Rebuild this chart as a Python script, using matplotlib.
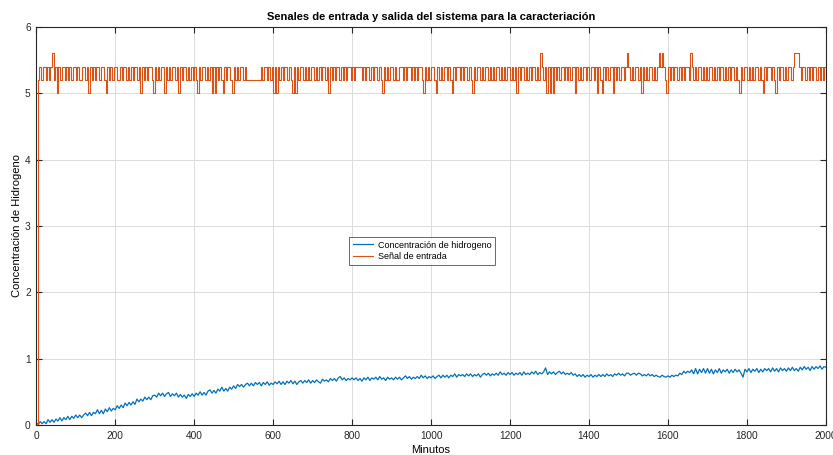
import numpy as np
import matplotlib
matplotlib.use("Agg")
import matplotlib.pyplot as plt

# ---- data ----
# Output signal: hydrogen concentration, sampled every 5 minutes (0..2000)
t_hidrogeno = np.arange(0, 2001, 5)
hidrogeno = [
    0.03,0.01,0.05,0.02,0.05,0.02,0.08,0.04,0.08,0.04,0.09,0.06,0.11,0.06,0.11,0.08,0.13,0.08,0.13,0.10,
    0.15,0.11,0.15,0.11,0.15,0.18,0.14,0.19,0.14,0.19,0.17,0.23,0.17,0.22,0.17,0.24,0.20,0.26,0.21,0.25,
    0.23,0.29,0.25,0.30,0.26,0.33,0.29,0.34,0.30,0.35,0.31,0.39,0.35,0.39,0.36,0.42,0.38,0.42,0.38,0.44,
    0.45,0.42,0.48,0.44,0.48,0.43,0.47,0.49,0.43,0.47,0.44,0.48,0.42,0.46,0.42,0.45,0.40,0.46,0.43,0.47,
    0.43,0.48,0.45,0.50,0.45,0.49,0.45,0.51,0.53,0.48,0.52,0.48,0.54,0.51,0.57,0.51,0.55,0.51,0.57,0.54,
    0.59,0.55,0.61,0.58,0.61,0.57,0.61,0.63,0.59,0.63,0.59,0.64,0.61,0.64,0.59,0.64,0.61,0.65,0.60,0.63,
    0.61,0.65,0.62,0.66,0.61,0.65,0.61,0.66,0.63,0.67,0.62,0.66,0.61,0.65,0.67,0.63,0.67,0.64,0.68,0.63,
    0.67,0.64,0.68,0.65,0.63,0.69,0.66,0.68,0.65,0.70,0.67,0.70,0.66,0.71,0.73,0.68,0.71,0.67,0.70,0.68,
    0.71,0.68,0.71,0.67,0.70,0.66,0.71,0.68,0.72,0.67,0.71,0.69,0.72,0.68,0.73,0.69,0.71,0.67,0.72,0.69,
    0.71,0.68,0.72,0.69,0.72,0.68,0.71,0.74,0.70,0.73,0.69,0.72,0.70,0.73,0.70,0.75,0.71,0.74,0.70,0.73,
    0.71,0.74,0.70,0.73,0.75,0.71,0.75,0.72,0.75,0.71,0.75,0.73,0.77,0.72,0.76,0.74,0.76,0.73,0.77,0.74,
    0.77,0.73,0.76,0.74,0.77,0.72,0.76,0.78,0.75,0.78,0.74,0.77,0.75,0.78,0.75,0.80,0.76,0.78,0.75,0.79,
    0.76,0.79,0.75,0.78,0.76,0.79,0.75,0.80,0.76,0.78,0.76,0.80,0.77,0.81,0.76,0.79,0.77,0.80,0.86,0.76,
    0.80,0.77,0.80,0.76,0.79,0.81,0.77,0.80,0.76,0.78,0.76,0.79,0.75,0.77,0.73,0.76,0.73,0.76,0.72,0.75,
    0.73,0.76,0.72,0.75,0.73,0.76,0.73,0.76,0.73,0.77,0.74,0.76,0.73,0.77,0.75,0.78,0.75,0.77,0.74,0.78,
    0.78,0.75,0.77,0.78,0.75,0.78,0.77,0.74,0.76,0.74,0.77,0.74,0.76,0.73,0.75,0.73,0.72,0.75,0.73,0.72,
    0.74,0.72,0.75,0.73,0.75,0.74,0.78,0.76,0.81,0.78,0.81,0.79,0.83,0.77,0.85,0.77,0.84,0.79,0.85,0.78,
    0.85,0.78,0.84,0.77,0.83,0.79,0.85,0.78,0.83,0.80,0.84,0.78,0.83,0.79,0.84,0.80,0.83,0.78,0.72,0.84,
    0.80,0.85,0.79,0.84,0.81,0.85,0.79,0.84,0.80,0.85,0.82,0.85,0.80,0.86,0.81,0.85,0.80,0.86,0.82,0.85,
    0.81,0.86,0.82,0.87,0.82,0.85,0.81,0.87,0.83,0.88,0.84,0.87,0.82,0.88,0.84,0.88,0.85,0.89,0.84,0.88,
    0.87,
]

# Input signal, sampled every 4 minutes (0..2000)
t_entrada = np.arange(0, 2001, 4)
entrada = [
    0.0,5.2,5.4,5.2,5.4,5.4,5.2,5.4,5.2,5.4,5.6,5.2,5.4,5.0,5.4,5.2,5.4,5.4,5.2,5.4,
    5.2,5.4,5.2,5.4,5.4,5.2,5.4,5.2,5.2,5.4,5.4,5.2,5.4,5.0,5.4,5.2,5.4,5.2,5.4,5.4,
    5.2,5.4,5.4,5.2,5.0,5.4,5.2,5.4,5.2,5.4,5.4,5.2,5.2,5.4,5.2,5.4,5.4,5.2,5.4,5.2,
    5.4,5.2,5.4,5.4,5.2,5.4,5.0,5.4,5.2,5.4,5.2,5.4,5.4,5.2,5.0,5.4,5.2,5.4,5.2,5.4,
    5.4,5.0,5.4,5.2,5.4,5.2,5.4,5.4,5.2,5.4,5.0,5.4,5.2,5.4,5.4,5.2,5.4,5.2,5.4,5.2,
    5.4,5.2,5.0,5.4,5.2,5.4,5.4,5.2,5.4,5.2,5.4,5.0,5.4,5.0,5.4,5.2,5.4,5.2,5.0,5.4,
    5.2,5.4,5.4,5.2,5.0,5.4,5.2,5.4,5.2,5.4,5.4,5.2,5.4,5.2,5.2,5.2,5.2,5.2,5.2,5.2,
    5.2,5.2,5.4,5.2,5.4,5.4,5.2,5.4,5.2,5.4,5.0,5.4,5.0,5.4,5.2,5.4,5.2,5.4,5.4,5.2,
    5.4,5.2,5.0,5.4,5.0,5.4,5.2,5.4,5.4,5.2,5.4,5.2,5.4,5.2,5.4,5.4,5.2,5.4,5.2,5.4,
    5.2,5.4,5.4,5.2,5.4,5.0,5.4,5.2,5.4,5.2,5.4,5.4,5.2,5.4,5.2,5.4,5.2,5.4,5.4,5.2,
    5.4,5.2,5.4,5.4,5.4,5.4,5.2,5.4,5.2,5.4,5.4,5.2,5.4,5.2,5.4,5.4,5.2,5.4,5.2,5.0,
    5.4,5.2,5.4,5.2,5.4,5.4,5.2,5.4,5.2,5.2,5.4,5.4,5.2,5.4,5.2,5.4,5.4,5.2,5.4,5.2,
    5.4,5.2,5.4,5.4,5.2,5.0,5.4,5.2,5.4,5.2,5.4,5.4,5.2,5.0,5.4,5.2,5.4,5.2,5.4,5.4,
    5.2,5.4,5.2,5.0,5.4,5.2,5.4,5.4,5.2,5.4,5.2,5.4,5.4,5.2,5.4,5.2,5.0,5.4,5.2,5.4,
    5.4,5.2,5.4,5.2,5.4,5.4,5.2,5.4,5.2,5.4,5.2,5.4,5.4,5.2,5.4,5.2,5.4,5.2,5.4,5.4,
    5.2,5.4,5.2,5.4,5.0,5.4,5.2,5.4,5.4,5.2,5.4,5.2,5.4,5.2,5.4,5.4,5.2,5.4,5.2,5.6,
    5.4,5.2,5.4,5.0,5.4,5.0,5.4,5.0,5.4,5.2,5.4,5.2,5.4,5.4,5.2,5.4,5.2,5.4,5.2,5.4,
    5.4,5.0,5.4,5.2,5.4,5.2,5.4,5.4,5.2,5.4,5.2,5.4,5.4,5.2,5.4,5.0,5.4,5.2,5.0,5.4,
    5.2,5.4,5.2,5.4,5.4,5.0,5.4,5.2,5.4,5.2,5.4,5.4,5.2,5.4,5.6,5.4,5.2,5.4,5.2,5.4,
    5.4,5.2,5.4,5.0,5.4,5.2,5.4,5.2,5.4,5.4,5.2,5.4,5.2,5.4,5.6,5.4,5.6,5.4,5.2,5.0,
    5.4,5.2,5.4,5.2,5.4,5.4,5.2,5.4,5.2,5.4,5.2,5.4,5.4,5.2,5.6,5.4,5.2,5.4,5.2,5.4,
    5.4,5.2,5.4,5.2,5.4,5.2,5.4,5.4,5.2,5.4,5.2,5.4,5.2,5.4,5.4,5.2,5.4,5.2,5.4,5.2,
    5.4,5.4,5.2,5.4,5.2,5.0,5.4,5.2,5.4,5.4,5.2,5.4,5.2,5.4,5.2,5.4,5.4,5.2,5.4,5.2,
    5.0,5.4,5.2,5.4,5.4,5.2,5.4,5.2,5.0,5.4,5.2,5.4,5.4,5.2,5.4,5.2,5.4,5.4,5.2,5.4,
    5.6,5.6,5.6,5.4,5.2,5.4,5.4,5.2,5.4,5.2,5.4,5.2,5.4,5.4,5.2,5.4,5.2,5.4,5.2,5.4,
    5.4,
]

x_ticks = [0, 200, 400, 600, 800, 1000, 1200, 1400, 1600, 1800, 2000]
y_ticks = [0, 1, 2, 3, 4, 5, 6]

titulo = "Senales de entrada y salida del sistema para la caracteriación"
etiqueta_x = "Minutos"
etiqueta_y = "Concentración de Hidrogeno"
leyenda = ["Concentración de hidrogeno", "Señal de entrada"]

# ---- plot ----
plt.rcParams['font.family'] = ['Liberation Sans', 'DejaVu Sans']

fig = plt.figure(figsize=(8.33, 4.55), dpi=100)
ax = fig.add_axes([0.0435, 0.066, 0.948, 0.875])

ax.plot(t_hidrogeno, hidrogeno, color='#0072BD', lw=0.9, label=leyenda[0])
ax.plot(t_entrada, entrada, color='#D95319', lw=0.8, drawstyle='steps-post',
        label=leyenda[1])

ax.set_xlim(0, 2000)
ax.set_ylim(0, 6)
ax.set_xticks(x_ticks)
ax.set_yticks(y_ticks)
ax.tick_params(direction='in', length=4, width=0.8, colors='#262626',
               labelsize=7.3, top=True, right=True, pad=4)
ax.grid(True, color='#dcdcdc', lw=0.7)
ax.set_axisbelow(True)
for s in ax.spines.values():
    s.set_color('#262626')
    s.set_linewidth(0.8)

ax.set_title(titulo, fontsize=8, fontweight='bold', pad=5)
ax.set_xlabel(etiqueta_x, fontsize=8, labelpad=3)
ax.set_ylabel(etiqueta_y, fontsize=8, labelpad=2)

leg = ax.legend(loc='lower left', bbox_to_anchor=(0.396, 0.402), fontsize=6.5,
                frameon=True, fancybox=False, borderpad=0.4, handlelength=2.3,
                labelspacing=0.3, handletextpad=0.5, borderaxespad=0)
leg.get_frame().set_edgecolor('#262626')
leg.get_frame().set_linewidth(0.6)

fig.savefig("out.png", dpi=100)
